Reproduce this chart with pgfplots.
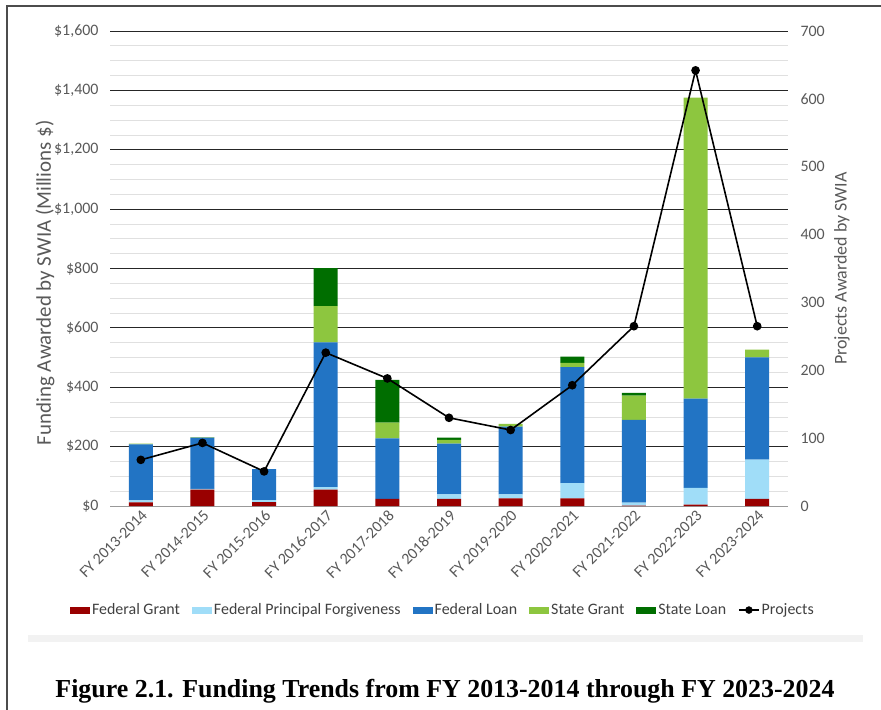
\documentclass[border=0pt]{standalone}
\usepackage{fontspec}
\setmainfont{Carlito}
\newfontfamily\capfont{Liberation Serif}
\usepackage{pgfplots}
\pgfplotsset{compat=1.18}
\definecolor{fg}{RGB}{153,0,0}
\definecolor{fpf}{RGB}{160,221,248}
\definecolor{fl}{RGB}{34,116,196}
\definecolor{sg}{RGB}{141,198,63}
\definecolor{sl}{RGB}{0,110,0}
\definecolor{tickgray}{RGB}{89,89,89}
\definecolor{leggray}{RGB}{64,64,64}
\pgfplotsset{barleg/.style={legend image code/.code={\fill[##1] (0bp,-3.5bp) rectangle (20bp,3.5bp);}}}
\begin{document}
\begin{tikzpicture}[x=1bp,y=1bp]
\useasboundingbox (0,0) rectangle (881,-710);
\fill[white] (0,0) rectangle (881,-710);
\draw[line width=1.8bp, black!70] (7,-710) -- (7,-6) -- (881,-6);
\fill[black!5] (28,-635) rectangle (863,-642);
\begin{axis}[at={(110bp,-506bp)}, anchor=south west, scale only axis,
  width=678bp, height=475bp,
  ybar stacked, bar width=24bp,
  xmin=-0.5, xmax=10.5, ymin=0, ymax=1600,
  axis x line*=bottom, axis y line*=left,
  x axis line style={draw=black!40, line width=1bp},
  y axis line style={draw=none},
  tick style={draw=none},
  xtick={0,1,2,3,4,5,6,7,8,9,10},
  xticklabels={FY 2013-2014,FY 2014-2015,FY 2015-2016,FY 2016-2017,FY 2017-2018,FY 2018-2019,FY 2019-2020,FY 2020-2021,FY 2021-2022,FY 2022-2023,FY 2023-2024},
  x tick label style={rotate=45, anchor=north east, font=\fontsize{16}{16}\selectfont, text=tickgray, inner sep=2bp},
  ytick={0,200,400,600,800,1000,1200,1400,1600},
  yticklabels={{\$0},{\$200},{\$400},{\$600},{\$800},{\$1,000},{\$1,200},{\$1,400},{\$1,600}},
  y tick label style={font=\fontsize{16}{16}\selectfont, text=tickgray, xshift=-8bp},
  minor ytick={50,100,...,1550},
  ymajorgrids, yminorgrids,
  major grid style={draw=black!85, line width=0.8bp},
  minor grid style={draw=black!12, line width=0.8bp},
  ylabel={Funding Awarded by SWIA (Millions \$)},
  ylabel style={at={(rel axis cs:-0.096,0.47)}, anchor=center, font=\fontsize{21}{21}\selectfont, text=tickgray},
  legend columns=6,
  legend style={draw=none, fill=none, at={(0.491,-0.219)}, anchor=center,
    font=\fontsize{16}{16}\selectfont, text=leggray, inner sep=0pt,
    /tikz/every even column/.append style={column sep=10bp},
    /tikz/every odd column/.append style={column sep=0bp}},
]
\addplot[fill=fg, draw=none, barleg] coordinates {(0,12) (1,55) (2,13) (3,55) (4,24) (5,24) (6,26) (7,26) (8,1) (9,5) (10,24)};
\addlegendentry{Federal Grant}
\addplot[fill=fpf, draw=none, barleg] coordinates {(0,7) (1,3) (2,7) (3,9) (4,0) (5,15) (6,13) (7,51) (8,10) (9,56) (10,132)};
\addlegendentry{Federal Principal Forgiveness}
\addplot[fill=fl, draw=none, barleg] coordinates {(0,189) (1,172) (2,104) (3,487) (4,204) (5,171) (6,228) (7,391) (8,279) (9,301) (10,345)};
\addlegendentry{Federal Loan}
\addplot[fill=sg, draw=none, barleg] coordinates {(0,2) (1,2) (2,0) (3,122) (4,53) (5,13) (6,10) (7,14) (8,82) (9,1014) (10,26)};
\addlegendentry{State Grant}
\addplot[fill=sl, draw=none, barleg] coordinates {(0,0) (1,0) (2,0) (3,128) (4,144) (5,7) (6,0) (7,21) (8,9) (9,0) (10,0)};
\addlegendentry{State Loan}
\addlegendimage{legend image code/.code={\draw[black, line width=1.6bp] (0bp,0bp) -- (20bp,0bp); \fill[black] (10bp,0bp) circle (3.5bp);}}
\addlegendentry{Projects}
\end{axis}
\begin{axis}[at={(110bp,-506bp)}, anchor=south west, scale only axis,
  width=678bp, height=475bp,
  xmin=-0.5, xmax=10.5, ymin=0, ymax=700,
  axis x line=none, axis y line*=right,
  y axis line style={draw=none},
  tick style={draw=none},
  ytick={0,100,200,300,400,500,600,700},
  /pgf/number format/assume math mode=true,
  y tick label style={font=\fontsize{16}{16}\selectfont, text=tickgray, xshift=9bp},
  ylabel={Projects Awarded by SWIA},
  ylabel style={at={(rel axis cs:1.0796,0.5)}, anchor=center, font=\fontsize{18}{18}\selectfont, text=tickgray},
]
\addplot[black, line width=1.6bp, mark=*, mark size=3.5bp] coordinates {(0,68) (1,93) (2,51) (3,226) (4,188) (5,130) (6,112) (7,178) (8,265) (9,642) (10,265)};
\end{axis}
\node[font=\capfont\bfseries\fontsize{26}{26}\selectfont, anchor=base] at (445,-697) {Figure 2.1. Funding Trends from FY 2013-2014 through FY 2023-2024};
\end{tikzpicture}
\end{document}
